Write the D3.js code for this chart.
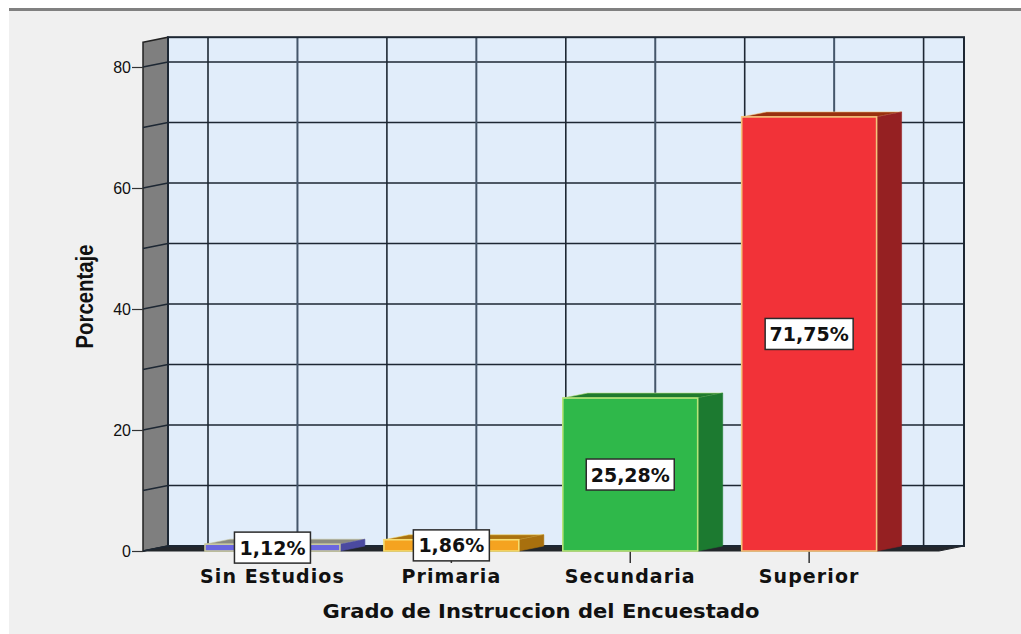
<!DOCTYPE html>
<html>
<head>
<meta charset="utf-8">
<script src="https://cdn.jsdelivr.net/npm/d3@7"></script>
<style>
html, body { margin: 0; padding: 0; background: #fff; }
svg { display: block; }
text { font-family: "Liberation Sans", Arial, sans-serif; fill: #111; }
</style>
</head>
<body>
<div class="chart"></div>
<script>
const categories = ['Sin Estudios', 'Primaria', 'Secundaria', 'Superior']
const percentages = [1.12, 1.86, 25.28, 71.75]
const yTicks = [0, 20, 40, 60, 80]
const yGrid = [0, 10, 20, 30, 40, 50, 60, 70, 80]
const xTitle = 'Grado de Instruccion del Encuestado'
const yTitle = 'Porcentaje'

const frontColors = ['#6a66e0', '#f5a320', '#2fb84a', '#f23238']
const topColors = ['#8a8a80', '#a9720f', '#1f7a2e', '#99300f']
const sideColors = ['#4b4aa0', '#a8700e', '#1c7a30', '#952022']
const edgeColors = ['#c8c8a0', '#f6dc70', '#b8e47a', '#f4c47c']

const width = 1021, height = 634
const depthX = 25, depthY = -5 // offset of the back wall from the front plane
const yTop = 84.1
const floorLeft = 143, floorRight = 939

const svg = d3.select('.chart').append('svg')
    .attr('width', width)
    .attr('height', height)

const x = d3.scaleBand()
    .domain(categories)
    .range([183, 898.6])
    .paddingInner(0.246)
    .paddingOuter(0.123)

const y = d3.scaleLinear()
    .domain([0, 80])
    .range([551, 67])

// panel
svg.append('rect').attr('x', 9).attr('y', 8).attr('width', width - 9).attr('height', height - 8).attr('fill', '#f0f0f0')
svg.append('rect').attr('x', 9).attr('y', 8).attr('width', width - 9).attr('height', 3).attr('fill', '#808080')

// back wall
svg.append('rect')
    .attr('x', floorLeft + depthX)
    .attr('y', y(yTop) + depthY)
    .attr('width', floorRight - floorLeft)
    .attr('height', y(0) - y(yTop))
    .attr('fill', '#e1edfa')

// left wall
svg.append('path')
    .attr('d', d3.line()([
        [floorLeft, y(yTop)], [floorLeft + depthX, y(yTop) + depthY],
        [floorLeft + depthX, y(0) + depthY], [floorLeft, y(0)]]) + 'Z')
    .attr('fill', '#7f7f7f')
    .attr('stroke', '#222')
    .attr('stroke-width', 1.5)

// floor
svg.append('path')
    .attr('d', d3.line()([
        [floorLeft, y(0)], [floorLeft + depthX, y(0) + depthY],
        [floorRight + depthX, y(0) + depthY], [floorRight, y(0)]]) + 'Z')
    .attr('fill', '#23262b')
    .attr('stroke', '#23262b')

// grid on back wall and left wall
const grid = svg.append('g').attr('fill', 'none').attr('stroke', '#1d2733').attr('stroke-width', 1.6)

grid.selectAll('.h-line')
    .data(yGrid)
    .enter().append('path')
    .attr('class', 'h-line')
    .attr('d', d => d3.line()([[floorLeft, y(d)], [floorLeft + depthX, y(d) + depthY], [floorRight + depthX, y(d) + depthY]]))

const step = x.step()
const gridX = d3.range(9).map(i => x(categories[0]) - x.paddingOuter() * step + i * step / 2)

grid.selectAll('.v-line')
    .data(gridX)
    .enter().append('line')
    .attr('class', 'v-line')
    .attr('x1', d => d + depthX)
    .attr('x2', d => d + depthX)
    .attr('y1', y(yTop) + depthY)
    .attr('y2', y(0) + depthY)
    .attr('stroke', (d, i) => i % 2 ? '#45566a' : '#1d2733')
    .attr('stroke-width', (d, i) => i % 2 ? 2 : 1.6)

// wall outline
svg.append('rect')
    .attr('x', floorLeft + depthX)
    .attr('y', y(yTop) + depthY)
    .attr('width', floorRight - floorLeft)
    .attr('height', y(0) - y(yTop))
    .attr('fill', 'none')
    .attr('stroke', '#1d2733')
    .attr('stroke-width', 2)

// axes
const yAxis = g => g
    .attr('transform', 'translate(' + floorLeft + ',0)')
    .call(d3.axisLeft(y).tickValues(yTicks).tickSize(11).tickPadding(1))
    .call(g => g.select('.domain').remove())
    .call(g => g.selectAll('line').attr('stroke', '#333').attr('stroke-width', 1.2))
    .call(g => g.selectAll('text').attr('font-size', 16).attr('fill', '#333').style('font-family', '"Liberation Sans"'))

const xAxis = g => g
    .attr('transform', 'translate(0,' + y(0) + ')')
    .call(d3.axisBottom(x).tickSize(12).tickPadding(6.5))
    .call(g => g.select('.domain').remove())
    .call(g => g.selectAll('line').attr('stroke', '#333').attr('stroke-width', 1.5))
    .call(g => g.selectAll('text')
        .attr('font-size', 19)
        .attr('font-weight', 'bold')
        .attr('fill', '#111')
        .style('font-family', '"DejaVu Sans"')
        .style('letter-spacing', '1.1px'))

svg.append('g').call(yAxis)
svg.append('g').call(xAxis)

// bars
const bars = svg.selectAll('.bar')
    .data(categories)
    .enter().append('g')
    .attr('class', 'bar')

const barData = (d, i) => ({ x0: x(d), x1: x(d) + x.bandwidth(), yv: y(percentages[i]) })

bars.append('path') // top
    .attr('d', (d, i) => {
        const b = barData(d, i)
        return d3.line()([[b.x0, b.yv], [b.x0 + depthX, b.yv + depthY], [b.x1 + depthX, b.yv + depthY], [b.x1, b.yv]]) + 'Z'
    })
    .attr('fill', (d, i) => topColors[i])
    .attr('stroke', (d, i) => edgeColors[i])
    .attr('stroke-width', 0.6)

bars.append('path') // side
    .attr('d', (d, i) => {
        const b = barData(d, i)
        return d3.line()([[b.x1, b.yv], [b.x1 + depthX, b.yv + depthY], [b.x1 + depthX, y(0) + depthY], [b.x1, y(0)]]) + 'Z'
    })
    .attr('fill', (d, i) => sideColors[i])
    .attr('stroke', (d, i) => sideColors[i])
    .attr('stroke-width', 0.6)

bars.append('rect') // front
    .attr('x', d => x(d))
    .attr('y', (d, i) => y(percentages[i]))
    .attr('width', x.bandwidth())
    .attr('height', (d, i) => y(0) - y(percentages[i]))
    .attr('fill', (d, i) => frontColors[i])
    .attr('stroke', (d, i) => edgeColors[i])
    .attr('stroke-width', 1.6)

// value labels
const fmt = v => d3.format('.2f')(v).replace('.', ',') + '%'

const labels = svg.selectAll('.value')
    .data(categories)
    .enter().append('g')
    .attr('class', 'value')
    .attr('transform', (d, i) => 'translate(' + (x(d) + x.bandwidth() / 2) + ',' + ((y(0) + y(percentages[i])) / 2) + ')')

labels.append('rect')
    .attr('y', -15.5)
    .attr('height', 31)
    .attr('fill', '#fff')
    .attr('stroke', '#2b2b2b')
    .attr('stroke-width', 1.5)
    .attr('width', (d, i) => percentages[i] < 10 ? 76 : 88)
    .attr('x', (d, i) => percentages[i] < 10 ? -38 : -44)

labels.append('text')
    .attr('text-anchor', 'middle')
    .attr('dy', 7)
    .attr('font-size', 19)
    .attr('font-weight', 'bold')
    .style('font-family', '"DejaVu Sans"')
    .text((d, i) => fmt(percentages[i]))

// axis titles
svg.append('text')
    .attr('x', 541)
    .attr('y', 618)
    .attr('text-anchor', 'middle')
    .attr('font-size', 19)
    .attr('font-weight', 'bold')
    .style('font-family', '"DejaVu Sans"')
    .attr('textLength', 437)
    .attr('lengthAdjust', 'spacingAndGlyphs')
    .text(xTitle)

svg.append('text')
    .attr('transform', 'translate(93,296.5) rotate(-90)')
    .attr('text-anchor', 'middle')
    .attr('font-size', 24)
    .attr('font-weight', 'bold')
    .attr('textLength', 104)
    .attr('lengthAdjust', 'spacingAndGlyphs')
    .text(yTitle)
</script>
</body>
</html>
